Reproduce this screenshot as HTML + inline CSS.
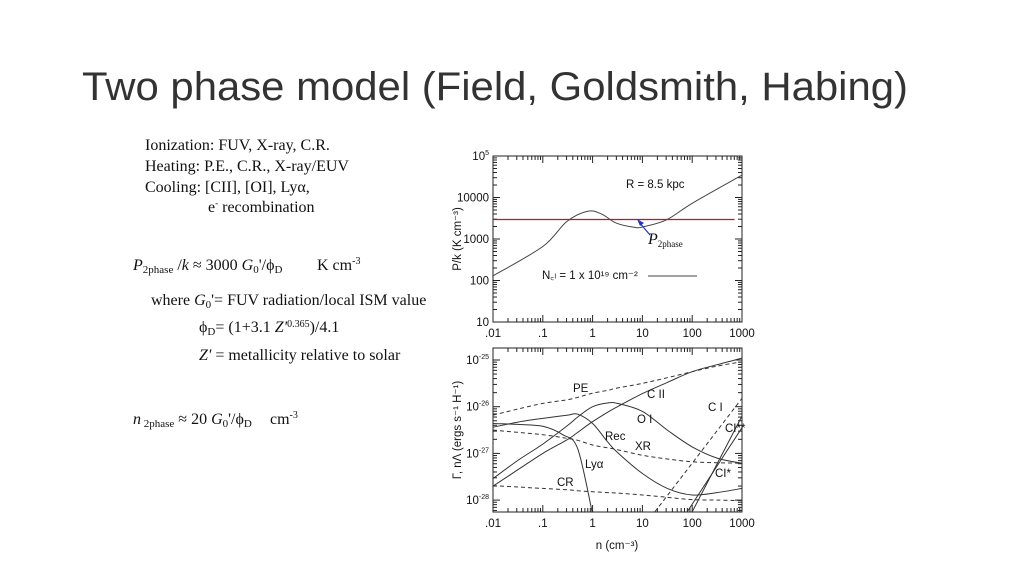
<!DOCTYPE html>
<html><head><meta charset="utf-8"><style>
body{margin:0;background:#fff}
svg{display:block}
.s{font-family:"Liberation Serif",serif;font-size:16px;fill:#111;white-space:pre}
.a{font-family:"Liberation Sans",sans-serif;font-size:11.5px;fill:#111}
</style></head><body>
<svg id="c" width="1024" height="576" viewBox="0 0 1024 576">
<text x="82" y="100" textLength="826" lengthAdjust="spacingAndGlyphs" style="font-family:'Liberation Sans',sans-serif;font-size:40px;fill:#333">Two phase model (Field, Goldsmith, Habing)</text>
<g class="s">
<text x="145" y="150">Ionization: FUV, X-ray, C.R.</text>
<text x="145" y="171">Heating: P.E., C.R., X-ray/EUV</text>
<text x="145" y="192">Cooling: [CII], [OI], Lyα,</text>
<text x="208" y="212">e<tspan dy="-6" font-size="9">-</tspan><tspan dy="6"> recombination</tspan></text>
<text x="133" y="270"><tspan font-style="italic">P</tspan><tspan font-size="11" dy="3">2phase</tspan><tspan dy="-3"> /</tspan><tspan font-style="italic">k</tspan> ≈ 3000 <tspan font-style="italic">G</tspan><tspan font-size="11" dy="3">0</tspan><tspan dy="-3">'/ϕ</tspan><tspan font-size="11" dy="3">D</tspan><tspan dy="-3" x="317">K cm</tspan><tspan font-size="10" dy="-6">-3</tspan></text>
<text x="151" y="305">where <tspan font-style="italic">G</tspan><tspan font-size="11" dy="3">0</tspan><tspan dy="-3">'= FUV radiation/local ISM  value</tspan></text>
<text x="199" y="332">ϕ<tspan font-size="11" dy="3">D</tspan><tspan dy="-3">= (1+3.1 </tspan><tspan font-style="italic">Z'</tspan><tspan font-size="10" dy="-5">0.365</tspan><tspan dy="5">)/4.1</tspan></text>
<text x="199" y="360"><tspan font-style="italic">Z'</tspan> = metallicity relative to solar</text>
<text x="133" y="424"><tspan font-style="italic">n</tspan><tspan font-size="11" dy="3"> 2phase</tspan><tspan dy="-3"> ≈ 20 </tspan><tspan font-style="italic">G</tspan><tspan font-size="11" dy="3">0</tspan><tspan dy="-3">'/ϕ</tspan><tspan font-size="11" dy="3">D</tspan><tspan dy="-3" x="270">cm</tspan><tspan font-size="10" dy="-6">-3</tspan></text>
</g>
</svg>
<script>
const xLogs=[-2,-1,0,1,2,3];
const xTickLabels=[".01",".1","1","10","100","1000"];
const topTickLogs=[1,2,3,4,5];
const topTickLabels=["10","100","1000","10000","10^5"];
const pressN=[-2,-1,-0.52,-0.1,0.18,0.48,0.85,1,1.48,2,3];
const pressP=[2.11,2.82,3.42,3.67,3.6,3.38,3.28,3.29,3.46,3.86,4.54];
const p2phase=3.47;
const botTickLogs=[-25,-26,-27,-28];
const botTickLabels=["-25","-26","-27","-28"];
const nGrid=[-2,-1.5,-1,-0.5,-0.3,0,0.3,0.5,1,1.5,2,2.5,3];
const PE=[-26.18,-26.05,-25.93,-25.85,-25.8,-25.71,-25.65,-25.6,-25.5,-25.38,-25.25,-25.13,-25.04];
const CII=[-27.7,-27.35,-27.0,-26.7,-26.55,-26.32,-26.12,-26.0,-25.72,-25.48,-25.25,-25.1,-24.96];
const OI=[-27.54,-27.15,-26.8,-26.4,-26.22,-26.0,-25.92,-25.93,-26.1,-26.5,-26.86,-27.1,-27.21];
const Rec=[-26.44,-26.33,-26.25,-26.18,-26.16,-26.36,-26.75,-26.98,-27.43,-27.75,-27.89,-27.84,-27.75];
const Lya=[-26.36,-26.38,-26.42,-26.6,-26.9,-28.3];
const LyaN=[-2,-1.5,-1,-0.6,-0.3,0];
const XR=[-26.5,-26.55,-26.6,-26.68,-26.72,-26.82,-26.88,-26.92,-27.04,-27.12,-27.18,-27.2,-27.21];
const CR=[-27.69,-27.72,-27.75,-27.78,-27.8,-27.82,-27.84,-27.85,-27.89,-27.94,-27.99,-28.0,-28.01];
const CIn=[1.25,3];const CIv=[-28.25,-25.82];
const CIsN=[1.9,3];const CIsV=[-28.25,-26.45];
const CIssN=[2.0,3];const CIssV=[-28.25,-26.2];
const NS="http://www.w3.org/2000/svg",svg=document.getElementById('c');
function mk(t,at,p){const e=document.createElementNS(NS,t);for(const k in at)e.setAttribute(k,at[k]);(p||svg).appendChild(e);return e;}
const X0=493,XW=49.8;
const xs=v=>X0+(v+2)*XW;
const yT=v=>156+(5-v)*41.5;
const yB=v=>360+(-25-v)*46.7;
function frame(top,bot,yf,ylo,yhi,name){
 const g=mk('g',{});
 mk('rect',{x:X0,y:top,width:249,height:bot-top,fill:'none',stroke:'#222','stroke-width':1},g);
 for(let d=-2;d<3;d++)for(let m=1;m<10;m++){const x=xs(d+Math.log10(m));const L=m==1?7:4;
  mk('line',{x1:x,x2:x,y1:bot,y2:bot-L,stroke:'#222'},g);mk('line',{x1:x,x2:x,y1:top,y2:top+L,stroke:'#222'},g);}
 for(let d=ylo;d<yhi;d++)for(let m=1;m<10;m++){const y=yf(d+Math.log10(m));if(y<top-0.5||y>bot+0.5)continue;const L=m==1?7:4;
  mk('line',{x1:X0,x2:X0+L,y1:y,y2:y,stroke:'#222'},g);mk('line',{x1:742,x2:742-L,y1:y,y2:y,stroke:'#222'},g);}
 xLogs.forEach((v,i)=>{const t=mk('text',{x:xs(v),y:bot+15,'text-anchor':'middle',class:'a'},g);t.textContent=xTickLabels[i];});
 return g;
}
function line(ns,vs,yf,dash,name,g,col,clipId){
 const P=ns.map((n,i)=>[xs(n),yf(vs[i])]);
 let d='M'+P[0][0].toFixed(1)+','+P[0][1].toFixed(1);
 for(let i=0;i<P.length-1;i++){const p0=P[i-1]||P[i],p1=P[i],p2=P[i+1],p3=P[i+2]||p2;
  const c1=[p1[0]+(p2[0]-p0[0])/6,p1[1]+(p2[1]-p0[1])/6],c2=[p2[0]-(p3[0]-p1[0])/6,p2[1]-(p3[1]-p1[1])/6];
  d+=' C'+c1.map(v=>v.toFixed(1))+' '+c2.map(v=>v.toFixed(1))+' '+p2.map(v=>v.toFixed(1));}
 const e=mk('path',{d:d,fill:'none',stroke:col||'#333','stroke-width':1,'stroke-dasharray':dash?'4,3':'none','clip-path':'url(#'+clipId+')'},g);
 
}
const defs=mk('defs',{});
const c1=mk('clipPath',{id:'ct'},defs);mk('rect',{x:X0,y:156,width:249,height:166},c1);
const c2=mk('clipPath',{id:'cb'},defs);mk('rect',{x:X0,y:348,width:249,height:164},c2);
const gT=frame(156,322,yT,1,5,'pressure-chart');
topTickLogs.forEach((v,i)=>{const t=mk('text',{x:X0-4,y:yT(v)+4,'text-anchor':'end',class:'a'},gT);
 if(i==4){t.textContent='10';const s=mk('tspan',{dy:-5,'font-size':7},t);s.textContent='5';}else t.textContent=topTickLabels[i];});
let t=mk('text',{class:'a',transform:'translate(461,239) rotate(-90)','text-anchor':'middle'},gT);t.textContent='P/k (K cm⁻³)';

t=mk('text',{x:626,y:188,class:'a','font-size':11.5},gT);t.textContent='R = 8.5   kpc';
line(pressN,pressP,yT,false,'pressure-curve',gT,'#444','ct');
const rl=mk('line',{x1:xs(-2),x2:xs(2.85),y1:yT(p2phase),y2:yT(p2phase),stroke:'#c8102e','stroke-width':1.3},gT);

mk('line',{x1:650,y1:235,x2:639,y2:222,stroke:'#2233cc','stroke-width':1.2},gT);
mk('polygon',{points:'637,219 644,223 640,226',fill:'#2233cc'},gT);
t=mk('text',{x:648,y:244,class:'s','font-size':14},gT);t.innerHTML='<tspan font-style="italic">P</tspan><tspan font-size="9" dy="3">2phase</tspan>';
t=mk('text',{x:542,y:279,class:'a','font-size':10.5},gT);t.textContent='N꜀ₗ = 1 x 10¹⁹ cm⁻²';
mk('line',{x1:648,x2:697,y1:276,y2:276,stroke:'#444'},gT);
const gB=frame(348,512,yB,-29,-24,'cooling-chart');
botTickLogs.forEach((v,i)=>{const tt=mk('text',{x:X0-4,y:yB(v)+4,'text-anchor':'end',class:'a'},gB);tt.textContent='10';
 const s=mk('tspan',{dy:-5,'font-size':7},tt);s.textContent=botTickLabels[i];});
t=mk('text',{class:'a',transform:'translate(461,430) rotate(-90)','text-anchor':'middle'},gB);t.textContent='Γ, nΛ (ergs s⁻¹ H⁻¹)';

t=mk('text',{x:617,y:549,class:'a','text-anchor':'middle','font-size':12},gB);t.textContent='n (cm⁻³)';

line(nGrid,PE,yB,true,'pe-heating',gB,'#333','cb');
line(nGrid,CII,yB,false,'cii-cooling',gB,'#333','cb');
line(nGrid,OI,yB,false,'oi-cooling',gB,'#333','cb');
line(nGrid,Rec,yB,false,'rec-cooling',gB,'#333','cb');
line(LyaN,Lya,yB,false,'lya-cooling',gB,'#333','cb');
line(nGrid,XR,yB,true,'xr-heating',gB,'#333','cb');
line(nGrid,CR,yB,true,'cr-heating',gB,'#333','cb');
line(CIn,CIv,yB,true,'ci-heating',gB,'#333','cb');
line(CIsN,CIsV,yB,false,'ci-star-cooling',gB,'#333','cb');
line(CIssN,CIssV,yB,false,'ci-2star-cooling',gB,'#333','cb');
[['PE',573,392],['C II',647,398],['O I',637,423],['Rec',605,440],['XR',635,450],['Lyα',585,468],['CR',557,486],['C I',708,411],['CI**',725,432],['CI*',715,477]].forEach(l=>{
 const tt=mk('text',{x:l[1],y:l[2],class:'a','font-size':8.5},gB);tt.textContent=l[0];});
</script>
</body></html>
